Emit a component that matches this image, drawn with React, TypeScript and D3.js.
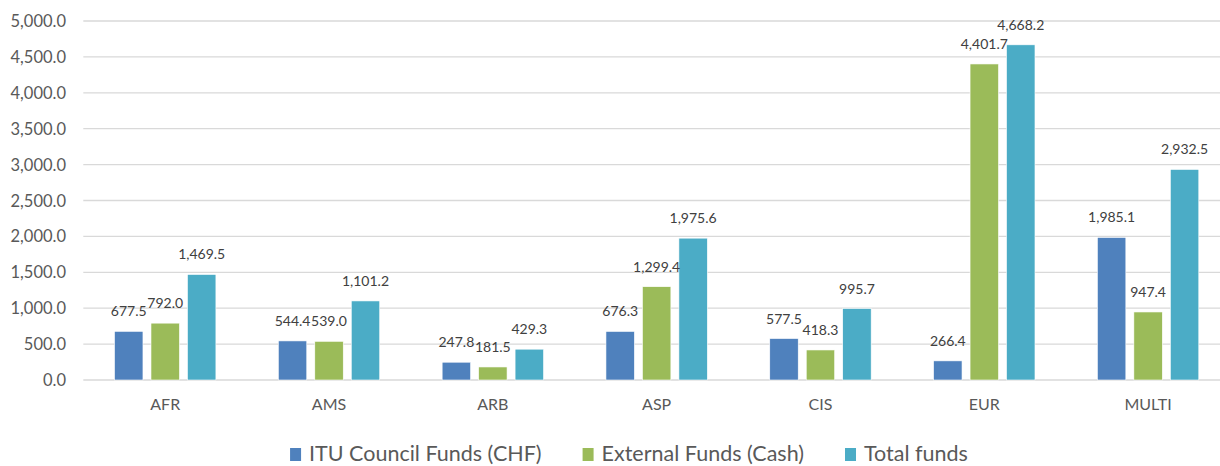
import React, { useEffect, useRef } from 'react';
import * as d3 from 'd3';

const categories = ['AFR', 'AMS', 'ARB', 'ASP', 'CIS', 'EUR', 'MULTI'];
const seriesNames = ['ITU Council Funds (CHF)', 'External Funds (Cash)', 'Total funds'];
const councilFunds = [677.5, 544.4, 247.8, 676.3, 577.5, 266.4, 1985.1];
const externalFunds = [792.0, 539.0, 181.5, 1299.4, 418.3, 4401.7, 947.4];
const totalFunds = [1469.5, 1101.2, 429.3, 1975.6, 995.7, 4668.2, 2932.5];
const yTicks = [0, 500, 1000, 1500, 2000, 2500, 3000, 3500, 4000, 4500, 5000];
const colors = ['#4F81BD', '#9BBB59', '#4BACC6'];

const W = 1220;
const H = 466;

export default function App() {
  const ref = useRef<SVGSVGElement>(null);

  useEffect(() => {
    const svg = d3.select(ref.current);
    svg.selectAll('*').remove();

    const left = 83.3;
    const right = 1230; // plot runs past the picture edge, as in the source
    const top = 21;
    const bottom = 380;
    const font = 'Lato, "Open Sans", sans-serif';

    const values = [councilFunds, externalFunds, totalFunds];
    const rows = categories.map((c, i) => ({ cat: c, vals: values.map(v => v[i]) }));

    const y = d3.scaleLinear().domain([0, 5000]).range([bottom, top]);
    const x0 = d3.scaleBand().domain(categories).range([left, right])
      .paddingInner(0.381).paddingOuter(0.1905);
    const x1 = d3.scaleBand().domain(seriesNames).range([0, x0.bandwidth()])
      .paddingInner(0.22).paddingOuter(0);
    const fmt = d3.format(',.1f');

    // grid
    svg.append('g')
      .selectAll('line')
      .data(yTicks)
      .join('line')
      .attr('x1', left)
      .attr('x2', right)
      .attr('y1', d => y(d))
      .attr('y2', d => y(d))
      .attr('stroke', '#d9d9d9')
      .attr('stroke-width', 1.3);

    // y tick labels
    svg.append('g')
      .selectAll('text')
      .data(yTicks)
      .join('text')
      .attr('x', 66)
      .attr('y', d => y(d) + 6)
      .attr('text-anchor', 'end')
      .attr('fill', '#595959')
      .style('font-family', font)
      .style('font-size', '16.5px')
      .text(d => fmt(d));

    // bars
    const groups = svg.append('g')
      .selectAll('g')
      .data(rows)
      .join('g')
      .attr('transform', d => `translate(${x0(d.cat)},0)`);

    groups.selectAll('rect')
      .data(d => d.vals.map((v, i) => ({ v, s: seriesNames[i], i })))
      .join('rect')
      .attr('x', d => x1(d.s)!)
      .attr('y', d => y(d.v))
      .attr('width', x1.bandwidth())
      .attr('height', d => bottom - y(d.v))
      .attr('fill', d => colors[d.i])
      .attr('stroke', '#ffffff')
      .attr('stroke-width', 0.6);

    groups.selectAll('text')
      .data(d => d.vals.map((v, i) => ({ v, s: seriesNames[i], i })))
      .join('text')
      .attr('x', d => x1(d.s)! + x1.bandwidth() / 2)
      .attr('y', d => y(d.v) - 15)
      .attr('text-anchor', 'middle')
      .attr('fill', '#404040')
      .style('font-family', font)
      .style('font-size', '14px')
      .text(d => fmt(d.v));

    // category labels
    svg.append('g')
      .selectAll('text')
      .data(categories)
      .join('text')
      .attr('x', d => x0(d)! + x0.bandwidth() / 2)
      .attr('y', 410)
      .attr('text-anchor', 'middle')
      .attr('fill', '#595959')
      .style('font-family', font)
      .style('font-size', '16px')
      .text(d => d);

    // legend
    const legend = svg.append('g');
    const items = legend.selectAll('g')
      .data(seriesNames)
      .join('g');
    items.append('rect')
      .attr('x', 0)
      .attr('y', 448)
      .attr('width', 11)
      .attr('height', 13)
      .attr('fill', (d, i) => colors[i]);
    items.append('text')
      .attr('x', 19)
      .attr('y', 461)
      .attr('fill', '#595959')
      .style('font-family', font)
      .style('font-size', '21.5px')
      .text(d => d);

    let cursor = 0;
    const offsets: number[] = [];
    items.each(function () {
      offsets.push(cursor);
      const t = (this as SVGGElement).querySelector('text') as SVGTextElement;
      cursor += 19 + t.getComputedTextLength() + 41;
    });
    const totalW = cursor - 41;
    const start = 629 - totalW / 2;
    items.attr('transform', (d, i) => `translate(${start + offsets[i]},0)`);
  }, []);

  return (
    <svg
      ref={ref}
      width={W}
      height={H}
      style={{ position: 'fixed', left: 0, top: 0, background: '#ffffff' }}
    />
  );
}
